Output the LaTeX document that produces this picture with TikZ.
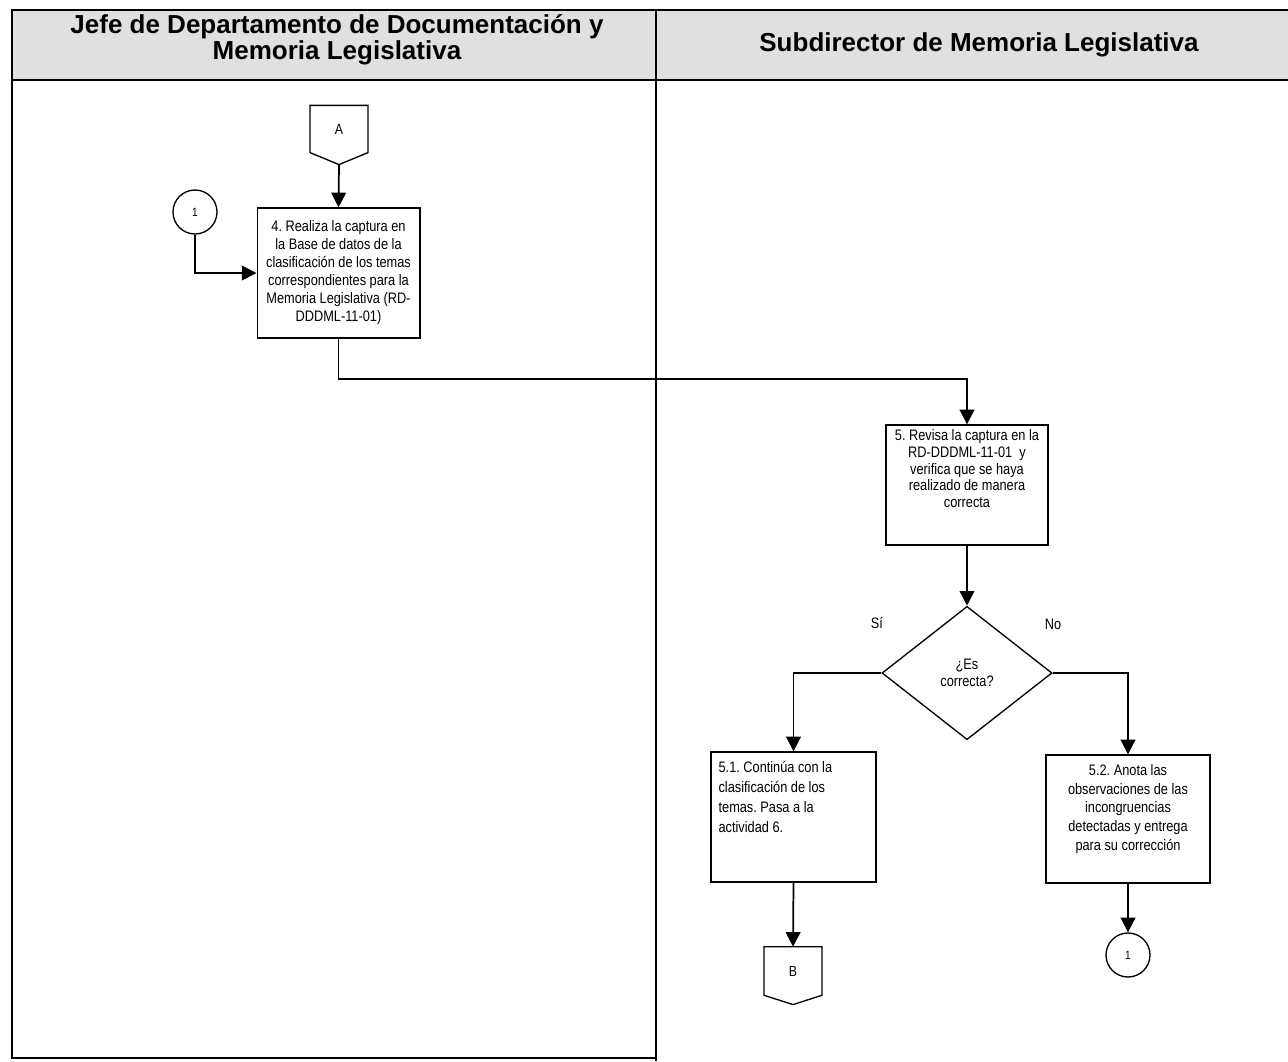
\documentclass[tikz,border=0pt]{standalone}
\usepackage{fontspec}
\setmainfont{Liberation Sans}
\newfontfamily\narrowfont[FakeStretch=0.84]{Liberation Sans}
\usetikzlibrary{arrows.meta,positioning,shapes.geometric}
\definecolor{lanegray}{RGB}{224,224,224}
\frenchspacing

\begin{document}
\begin{tikzpicture}[x=0.75pt,y=-0.75pt,>={Triangle[width=11pt,length=11pt]},
box/.style={draw,line width=1pt,minimum width=123pt,minimum height=97pt,inner sep=0pt},
txt/.style={font=\narrowfont\fontsize{11.4}{13}\selectfont,align=center,inner sep=0pt},
arr/.style={->,line width=1.3pt},
link/.style={draw,circle,line width=1pt,minimum size=33pt,inner sep=0pt,font=\narrowfont\fontsize{9}{9}\selectfont},
offpage/.style={minimum width=43pt,minimum height=35pt,inner sep=0pt,font=\narrowfont\fontsize{11}{11}\selectfont},
pent/.style={line width=1pt},
decision/.style={draw,diamond,line width=1pt,minimum width=127.5pt,minimum height=100pt,inner sep=0pt,align=center,font=\narrowfont\fontsize{11.4}{13}\selectfont},
lane/.style={font=\bfseries\fontsize{19.5}{19.5}\selectfont,align=center}]
\useasboundingbox (0,0) rectangle (1288,1061);
% lanes
\fill[lanegray] (12,10) rectangle (1288,80);
\draw[line width=1.3pt] (1288,10) -- (12,10) -- (12,1058) -- (656,1058);
\draw[line width=1.3pt] (12,80) -- (1288,80);
\draw[line width=1.3pt] (656,10) -- (656,1061);
\node[lane] (laneJefe) at (337,39.5) {Jefe de Departamento de Documentación y\\Memoria Legislativa};
\node[lane] (laneSub) at (979,45) {Subdirector de Memoria Legislativa};
% Jefe de Departamento
\node[offpage] (conA) at (339,129) {A};
\draw[pent] (conA.north west) -- (conA.north east) -- (conA.south east) -- ([yshift=-9pt]conA.south) -- (conA.south west) -- cycle;
\coordinate (conAtip) at ([yshift=-9pt]conA.south);
\node[box,txt,minimum width=122pt,minimum height=97.5pt,font=\narrowfont\fontsize{11.4}{13.5}\selectfont] (act4) at (338.5,273) {4. Realiza la captura en\\la Base de datos de la\\clasificación de los temas\\correspondientes para la\\Memoria Legislativa (RD-\\DDDML-11-01)};
\node[link] (con1in) at (195,212) {1};
\draw[arr] (conAtip) -- (act4.north);
\draw[arr] (con1in.south) |- (act4.west);
% Subdirector
\node[box,minimum width=121.5pt,minimum height=90pt] (act5) at (967,485) {};
\node[txt,font=\narrowfont\fontsize{11.4}{12.5}\selectfont,below=4pt of act5.north] (act5txt) {5. Revisa la captura en la\\RD-DDDML-11-01\ \ y\\verifica que se haya\\realizado de manera\\correcta};
\draw[arr] (act4.south) -- ++(0,40) -| (act5.north);
\node[decision] (dec5) at (967,673) {¿Es\\correcta?};
\draw[arr] (act5.south) -- (dec5.north);
\node[txt] (lblSi) at (877,623) {Sí};
\node[txt] (lblNo) at (1053,624) {No};
\node[box,minimum width=123.75pt,minimum height=97.5pt] (act51) at (793.5,817) {};
\node[txt,align=left,font=\narrowfont\fontsize{11.4}{15}\selectfont,below right=7.5pt and 6pt of act51.north west] (act51txt) {5.1. Continúa con la\\clasificación de los\\temas. Pasa a la\\actividad 6.};
\node[box,minimum width=123pt,minimum height=96pt] (act52) at (1128,819) {};
\node[txt,font=\narrowfont\fontsize{11.4}{14}\selectfont,below=7.5pt of act52.north] (act52txt) {5.2. Anota las\\observaciones de las\\incongruencias\\detectadas y entrega\\para su corrección};
\draw[arr] (dec5.west) -| (act51.north);
\draw[arr] (dec5.east) -| (act52.north);
\node[offpage,minimum height=36pt] (conB) at (793,971) {B};
\draw[pent] (conB.north west) -- (conB.north east) -- (conB.south east) -- ([yshift=-7pt]conB.south) -- (conB.south west) -- cycle;
\draw[arr] (act51.south) -- (conB.north);
\node[link] (con1out) at (1128,955) {1};
\draw[arr] (act52.south) -- (con1out.north);
\end{tikzpicture}
\end{document}
